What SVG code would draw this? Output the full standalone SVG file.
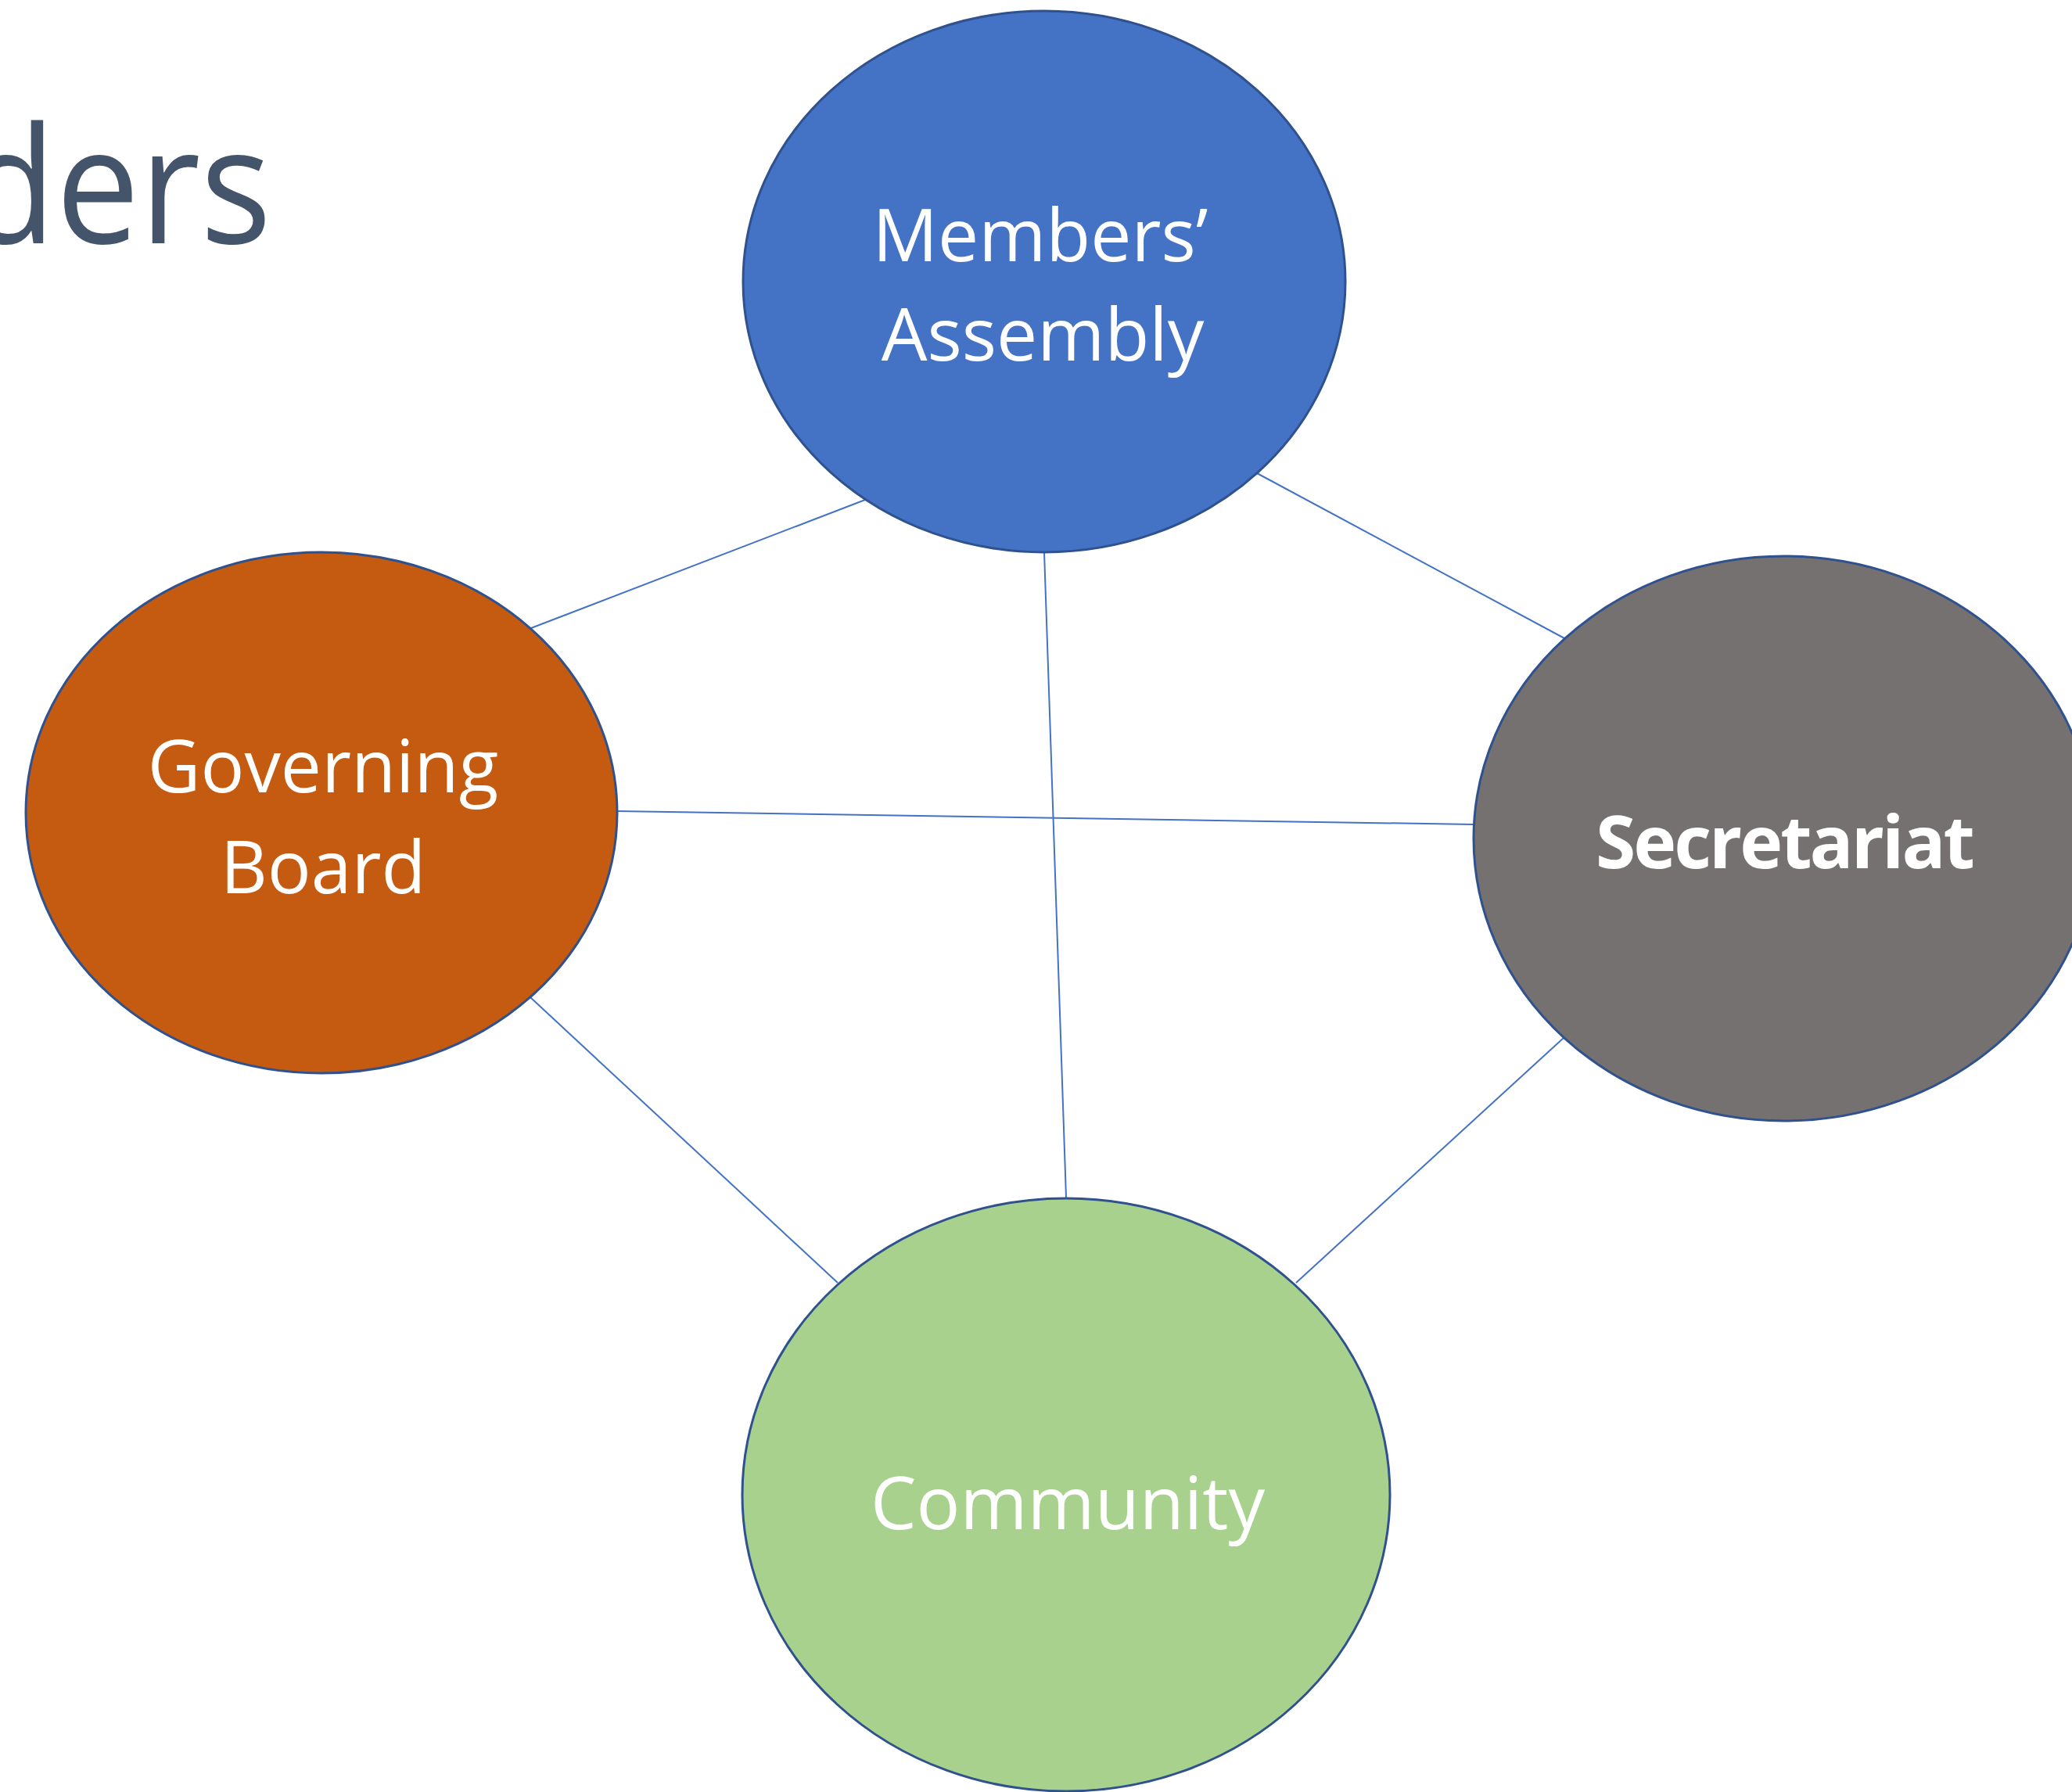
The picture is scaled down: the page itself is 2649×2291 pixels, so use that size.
<svg xmlns="http://www.w3.org/2000/svg" width="2649" height="2291" viewBox="0 0 2649 2291">
<style>
.node{stroke:#2F528F;stroke-width:3}
.lbl{font-family:"Open Sans","Noto Sans","Liberation Sans",sans-serif;font-size:93px;fill:#FFFFFF;text-anchor:middle}
.bold{font-weight:bold}
.conn line{stroke:#4472C4;stroke-width:2}
</style>
<rect width="2649" height="2291" fill="#FFFFFF"/>
<text x="-45" y="311" font-family="'Open Sans','Noto Sans',sans-serif" font-size="207" fill="#44546A" textLength="392" lengthAdjust="spacingAndGlyphs">ders</text>
<g id="connectors" class="conn">
<line x1="1106" y1="639" x2="679" y2="803"/>
<line x1="1607" y1="605" x2="2000" y2="816"/>
<line x1="1335" y1="706" x2="1363" y2="1531"/>
<line x1="789" y1="1037" x2="1884" y2="1054"/>
<line x1="678" y1="1275" x2="1071" y2="1640"/>
<line x1="2000" y1="1326" x2="1657" y2="1640"/>
</g>
<g id="members-assembly">
<ellipse class="node" cx="1335" cy="360" rx="385" ry="346" fill="#4472C4"/>
<text class="lbl" x="1330" y="334">Members’</text>
<text class="lbl" x="1333" y="461">Assembly</text>
</g>
<g id="governing-board">
<ellipse class="node" cx="411" cy="1039" rx="378" ry="333" fill="#C55A11"/>
<text class="lbl" x="413" y="1013">Governing</text>
<text class="lbl" x="413" y="1142">Board</text>
</g>
<g id="secretariat">
<ellipse class="node" cx="2281" cy="1072" rx="397" ry="361" fill="#767171"/>
<text class="lbl bold" x="2281" y="1110" letter-spacing="-3">Secretariat</text>
</g>
<g id="community">
<ellipse class="node" cx="1363" cy="1911" rx="414" ry="379" fill="#A9D18E"/>
<text class="lbl" x="1365" y="1955">Community</text>
</g>
</svg>
